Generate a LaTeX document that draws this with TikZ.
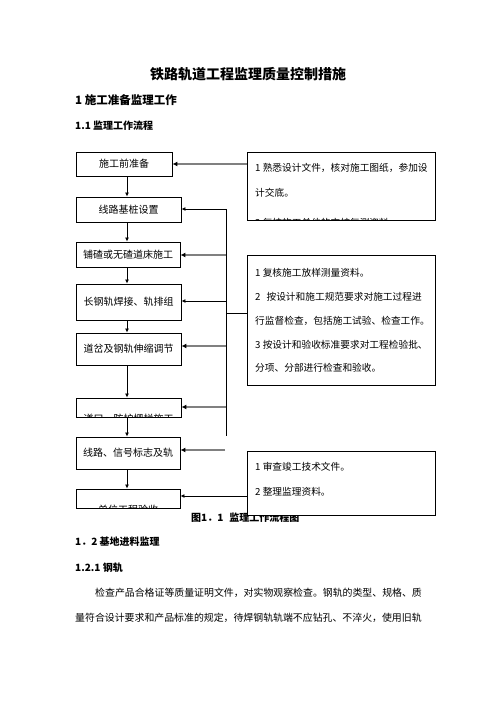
\documentclass[tikz,border=0pt]{standalone}
\usepackage{fontspec}
\setmainfont{Noto Sans CJK SC}
\usetikzlibrary{arrows.meta}
\begin{document}
\begin{tikzpicture}[x=1pt,y=-1pt,
  lbox/.style={draw, line width=0.9pt, minimum width=105pt, inner sep=0pt, font=\fontsize{10}{12}\selectfont},
  rbox/.style={draw, line width=0.9pt, fill=white, minimum width=188pt, inner sep=0pt},
  rtext/.style={anchor=west, align=left, inner sep=0pt, font=\fontsize{9.7}{24}\selectfont},
  btext/.style={anchor=west, inner sep=0pt, font=\fontsize{10}{12}\selectfont},
  head/.style={anchor=west, inner sep=0pt, font=\bfseries\fontsize{10}{12}\selectfont},
  garrow/.style={draw=black!50, line width=2pt, -{Latex[length=5pt,width=5pt,color=black]}},
  barrow/.style={draw=black, line width=0.8pt, -{Latex[length=4pt,width=4pt]}},
  bline/.style={draw=black, line width=0.8pt}
]
\useasboundingbox (0,0) rectangle (496,702);

% headings
\node[inner sep=0pt, font=\bfseries\fontsize{14}{16}\selectfont] (title) at (248,74) {铁路轨道工程监理质量控制措施};
\node[head, font=\bfseries\fontsize{11.5}{14}\selectfont] (h1) at (75,100) {1 施工准备监理工作};
\node[head] (h11) at (75,126) {1.1 监理工作流程};

% caption (partly hidden by the box drawn later)
\node[head] (cap) at (191,518) {图1．1\hspace{6pt}监理工作流程图};

% left boxes
\node[lbox, minimum width=96pt, minimum height=24pt] (b1) at (124,164) {施工前准备};
\node[lbox, minimum height=25pt] (b2) at (128.5,209.5) {线路基桩设置};
\node[lbox, minimum width=104pt, minimum height=25pt] (b3) at (128,254.5) {铺碴或无碴道床施工};
\node[lbox, minimum height=36pt] (b4) at (128.5,302) {长钢轨焊接、轨排组};
\node[lbox, minimum height=32pt] (b5) at (128.5,349) {道岔及钢轨伸缩调节};
\node[lbox, minimum height=19pt] (b6) at (128.5,407.5) {};
\node[lbox, minimum width=104pt, minimum height=32pt] (b7) at (128,453) {线路、信号标志及轨};
\node[lbox, minimum width=104pt, minimum height=19pt] (b8) at (128,498.5) {};
\begin{scope}
  \clip (b6.north west) rectangle (b6.south east);
  \node[inner sep=0pt, font=\fontsize{10}{12}\selectfont] (t6) at (128.5,419) {道口、防护栅栏施工};
\end{scope}
\begin{scope}
  \clip (b8.north west) rectangle (b8.south east);
  \node[inner sep=0pt, font=\fontsize{10}{12}\selectfont] (t8) at (128,510) {单位工程验收};
\end{scope}

% down arrows
\foreach \a/\b in {b1/b2,b2/b3,b3/b4,b4/b5,b5/b6,b6/b7,b7/b8}
  \draw[barrow] (\a.south -| 127,0) -- (\b.north -| 127,0);

% right boxes
\node[rbox, minimum height=68pt] (r1) at (341,186) {};
\node[rtext, font=\fontsize{9.7}{25}\selectfont] (t1) at (255,180.5) {1 熟悉设计文件，核对施工图纸，参加设\\计交底。};
\begin{scope}
  \clip (r1.north west) rectangle (r1.south east);
  \node[rtext, font=\fontsize{9.7}{12}\selectfont] (t1b) at (255,222.5) {2 复核施工单位的交桩复测资料。};
\end{scope}
\node[rbox, minimum height=130pt] (r2) at (341,320) {};
\node[rtext, font=\fontsize{9.7}{23.9}\selectfont] (t2) at (255,320.5) {1 复核施工放样测量资料。\\2\hspace{6pt}按设计和施工规范要求对施工过程进\\行监督检查，包括施工试验、检查工作。\\3 按设计和验收标准要求对工程检验批、\\分项、分部进行检查和验收。};
\node[rbox, minimum height=64pt] (r3) at (341,483) {};
\node[rtext, font=\fontsize{9.7}{25}\selectfont] (t3) at (255,479.2) {1 审查竣工技术文件。\\2 整理监理资料。};

% trunk and connectors
\coordinate (j2) at (226,209);
\coordinate (j3) at (226,255);
\coordinate (j4) at (226,301);
\coordinate (jr) at (226,313);
\coordinate (j5) at (226,346);
\coordinate (j6) at (226,407);
\coordinate (jend) at (226,436);
\coordinate (j7) at (225,450);
\draw[bline] (j2) -- (jend);
\draw[barrow] (j2) -- (j2 -| b2.east);
\draw[garrow] (j3) -- (j3 -| b3.east);
\draw[barrow] (j4) -- (j4 -| b4.east);
\draw[garrow] (j5) -- (j5 -| b5.east);
\draw[garrow] (j6) -- (j6 -| b6.east);
\draw[garrow] (j7) -- (j7 -| b7.east);
\draw[bline] (jr) -- (jr -| r2.west);
\draw[garrow] (r1.west |- b1.east) -- (b1.east);
\draw[barrow] (r3.west |- 0,496) -- (b8.east |- 0,496);

% body text
\node[head] (h12) at (75,541.7) {1．2 基地进料监理};
\node[head] (h121) at (75,568) {1.2.1 钢轨};
\node[btext, font=\fontsize{9.9}{12}\selectfont] (p1) at (95,593) {检查产品合格证等质量证明文件，对实物观察检查。钢轨的类型、规格、质};
\node[btext, font=\fontsize{9.9}{12}\selectfont] (p2) at (75,618) {量符合设计要求和产品标准的规定，待焊钢轨轨端不应钻孔、不淬火，使用旧轨};
\end{tikzpicture}
\end{document}
